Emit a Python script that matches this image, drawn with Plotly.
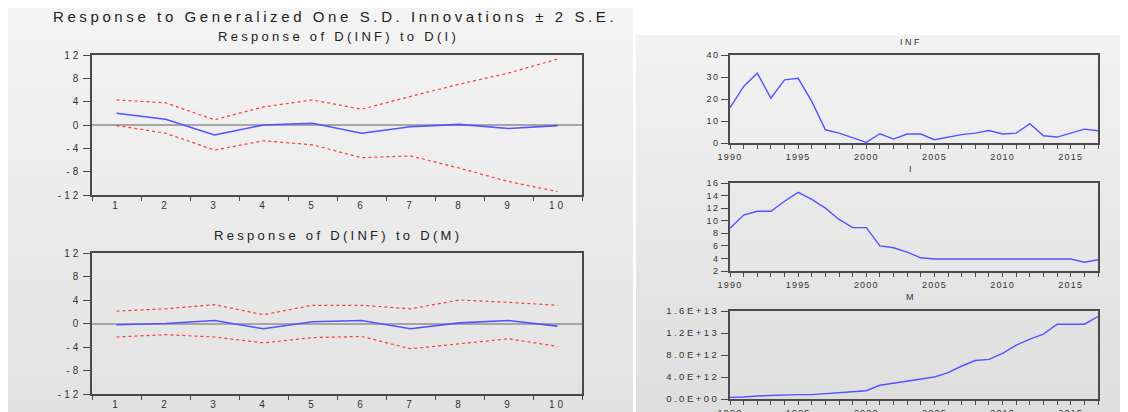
import plotly.graph_objects as go

# ---------------- data ----------------
periods = [1, 2, 3, 4, 5, 6, 7, 8, 9, 10]
period_labels = ["1", "2", "3", "4", "5", "6", "7", "8", "9", "10"]

resp_i = [2.0, 1.0, -1.7, 0.0, 0.3, -1.4, -0.3, 0.1, -0.6, -0.1]
upper_i = [4.3, 3.8, 0.9, 3.1, 4.3, 2.7, 4.9, 7.0, 8.9, 11.3]
lower_i = [-0.1, -1.4, -4.3, -2.7, -3.4, -5.6, -5.3, -7.4, -9.7, -11.4]

resp_m = [-0.2, 0.0, 0.5, -0.9, 0.3, 0.5, -0.9, 0.1, 0.5, -0.45]
upper_m = [2.1, 2.5, 3.2, 1.5, 3.1, 3.1, 2.5, 4.0, 3.6, 3.1]
lower_m = [-2.3, -1.9, -2.3, -3.3, -2.4, -2.2, -4.3, -3.5, -2.6, -3.9]

irf_ticks = [-12, -8, -4, 0, 4, 8, 12]
irf_ticklabels = ["-12", "-8", "-4", "0", "4", "8", "12"]

years = list(range(1990, 2018))
year_ticks = [1990, 1995, 2000, 2005, 2010, 2015]
year_labels = ["1990", "1995", "2000", "2005", "2010", "2015"]

inf = [16.0, 25.7, 31.7, 20.4, 28.7, 29.4, 18.9, 6.0, 4.5, 2.3, 0.3, 4.2, 1.8, 4.1,
       4.1, 1.5, 2.7, 3.8, 4.5, 5.7, 4.1, 4.5, 8.8, 3.3, 2.7, 4.5, 6.3, 5.6]
rate_i = [8.8, 10.9, 11.5, 11.5, 13.1, 14.5, 13.4, 12.0, 10.2, 8.9, 8.9, 6.0, 5.7, 5.0,
          4.1, 3.9, 3.9, 3.9, 3.9, 3.9, 3.9, 3.9, 3.9, 3.9, 3.9, 3.9, 3.4, 3.8]
money = [0.30e12, 0.35e12, 0.55e12, 0.65e12, 0.80e12, 0.80e12, 0.80e12, 1.00e12, 1.15e12,
         1.30e12, 1.50e12, 2.50e12, 2.90e12, 3.30e12, 3.60e12, 4.00e12, 4.80e12, 6.00e12,
         7.00e12, 7.20e12, 8.30e12, 9.80e12, 10.9e12, 11.8e12, 13.6e12, 13.6e12, 13.6e12,
         15.0e12]

inf_ticks = [0, 10, 20, 30, 40]
inf_labels = ["0", "10", "20", "30", "40"]
i_ticks = [2, 4, 6, 8, 10, 12, 14, 16]
i_labels = ["2", "4", "6", "8", "10", "12", "14", "16"]
m_ticks = [0, 4e12, 8e12, 1.2e13, 1.6e13]
m_labels = ["0.0E+00", "4.0E+12", "8.0E+12", "1.2E+13", "1.6E+13"]

# page body has an 8px margin, so the figure is drawn 8px smaller and shifted
OFF = 8
W, H = 1128 - OFF, 412 - OFF
FONT = "Liberation Sans, Arial, sans-serif"


def sp(txt, ls):
    return f'<span style="letter-spacing:{ls}px">{txt}</span>'


def px_x(v):
    return min(1.0, max(0.0, (v - OFF) / W))


def px_y(v):
    return min(1.0, max(0.0, 1 - (v - OFF) / H))


fig = go.Figure()

BLUE = "#5353ff"
RED = "#ff3b3b"

# ---------- left IRF panels ----------
for (resp, up, lo, xa, ya) in [(resp_i, upper_i, lower_i, "x", "y"),
                               (resp_m, upper_m, lower_m, "x2", "y2")]:
    fig.add_trace(go.Scatter(x=periods, y=up, mode="lines", xaxis=xa, yaxis=ya,
                             line=dict(color=RED, width=1.2, dash="3px,3px"), showlegend=False))
    fig.add_trace(go.Scatter(x=periods, y=lo, mode="lines", xaxis=xa, yaxis=ya,
                             line=dict(color=RED, width=1.2, dash="3px,3px"), showlegend=False))
    fig.add_trace(go.Scatter(x=periods, y=resp, mode="lines", xaxis=xa, yaxis=ya,
                             line=dict(color=BLUE, width=1.6), showlegend=False))

# ---------- right series panels ----------
for (ser, xa, ya) in [(inf, "x3", "y3"), (rate_i, "x4", "y4"), (money, "x5", "y5")]:
    fig.add_trace(go.Scatter(x=years, y=ser, mode="lines", xaxis=xa, yaxis=ya,
                             line=dict(color=BLUE, width=1.4), showlegend=False))

AXCOL = "#4a4a4a"
TICKFONT_L = dict(family=FONT, size=10, color="#333333")
TICKFONT_R = dict(family=FONT, size=9, color="#333333")

left_x_dom = [px_x(92), px_x(582)]
right_x_dom = [px_x(730), px_x(1098)]


def irf_xaxis(anchor):
    return dict(domain=left_x_dom, anchor=anchor, range=[0.5, 10.5], automargin=False,
                tickmode="array", tickvals=periods,
                ticktext=[sp(t, 3) for t in period_labels],
                ticks="", tickfont=TICKFONT_L,
                minor=dict(tickmode="linear", tick0=0.5, dtick=1, ticks="outside",
                           ticklen=4, tickcolor=AXCOL, tickwidth=1),
                showline=True, linecolor=AXCOL, linewidth=1.5, mirror=True,
                showgrid=False, zeroline=False)


def irf_yaxis(anchor, dom):
    return dict(domain=dom, anchor=anchor, range=[-12, 12], automargin=False,
                tickmode="array", tickvals=irf_ticks,
                ticktext=[sp(t, 3) for t in irf_ticklabels],
                ticks="outside", ticklen=7, tickcolor=AXCOL, tickfont=TICKFONT_L,
                showline=True, linecolor=AXCOL, linewidth=1.5, mirror=True,
                showgrid=False, zeroline=True, zerolinecolor="#a6a6a6", zerolinewidth=2)


def yr_xaxis(anchor):
    return dict(domain=right_x_dom, anchor=anchor, range=[1990, 2017], automargin=False,
                tickmode="array", tickvals=year_ticks,
                ticktext=[sp(t, 1.2) for t in year_labels],
                ticks="outside", ticklen=4, tickcolor=AXCOL, tickfont=TICKFONT_R,
                minor=dict(tickmode="linear", tick0=1990, dtick=1, ticks="outside",
                           ticklen=4, tickcolor=AXCOL),
                showline=True, linecolor=AXCOL, linewidth=1.5, mirror=True,
                showgrid=False, zeroline=False)


def ser_yaxis(anchor, dom, rng, tv, tt, ls, fs=9):
    return dict(domain=dom, anchor=anchor, range=rng, automargin=False,
                tickmode="array", tickvals=tv,
                ticktext=[sp(t, ls) for t in tt],
                ticks="outside", ticklen=7, tickcolor=AXCOL,
                tickfont=dict(family=FONT, size=fs, color="#333333"),
                showline=True, linecolor=AXCOL, linewidth=1.5, mirror=True,
                showgrid=False, zeroline=False)


fig.update_layout(
    width=W, height=H, margin=dict(l=0, r=0, t=0, b=0, autoexpand=False),
    paper_bgcolor="white", plot_bgcolor="white",
    xaxis=irf_xaxis("y"),
    yaxis=irf_yaxis("x", [px_y(195), px_y(55)]),
    xaxis2=irf_xaxis("y2"),
    yaxis2=irf_yaxis("x2", [px_y(394), px_y(253)]),
    xaxis3=yr_xaxis("y3"),
    yaxis3=ser_yaxis("x3", [px_y(143), px_y(55)], [0, 40], inf_ticks, inf_labels, 1.5),
    xaxis4=yr_xaxis("y4"),
    yaxis4=ser_yaxis("x4", [px_y(271), px_y(183)], [2, 16], i_ticks, i_labels, 1.5),
    xaxis5=yr_xaxis("y5"),
    yaxis5=ser_yaxis("x5", [px_y(399), px_y(311)], [0, 1.6e13], m_ticks, m_labels, 2.5, 9.5),
)

# ---------- panel backgrounds (vertical gradient bands) ----------
shapes = []


def gradient(x0, x1, y0, y1, c_top, c_bot, n=24):
    for k in range(n):
        t = k / (n - 1)
        c = [round(c_top[j] + (c_bot[j] - c_top[j]) * t) for j in range(3)]
        ya = y0 + (y1 - y0) * k / n
        yb = y0 + (y1 - y0) * (k + 1) / n
        shapes.append(dict(type="rect", xref="paper", yref="paper", layer="below",
                           x0=px_x(x0), x1=px_x(x1), y0=px_y(yb + 0.5), y1=px_y(ya),
                           line=dict(width=0),
                           fillcolor=f"rgb({c[0]},{c[1]},{c[2]})"))


gradient(0, 633, 6, 412, (244, 244, 244), (226, 226, 226))
gradient(636, 1128, 35, 412, (242, 242, 242), (222, 222, 222))
fig.update_layout(shapes=shapes)

# ---------- titles ----------
ann = []
ann.append(dict(text=sp("Response to Generalized One S.D. Innovations \u00b1 2 S.E.", 3.6),
                x=px_x(335), y=px_y(16), font=dict(family=FONT, size=15, color="#222222")))
ann.append(dict(text=sp("Response of D(INF) to D(I)", 3.3),
                x=px_x(338), y=px_y(37), font=dict(family=FONT, size=13, color="#222222")))
ann.append(dict(text=sp("Response of D(INF) to D(M)", 3.3),
                x=px_x(338), y=px_y(236), font=dict(family=FONT, size=13, color="#222222")))
ann.append(dict(text=sp("INF", 2.5), x=px_x(911), y=px_y(42),
                font=dict(family=FONT, size=9, color="#333333")))
ann.append(dict(text=sp("I", 2.5), x=px_x(911), y=px_y(169),
                font=dict(family=FONT, size=9, color="#333333")))
ann.append(dict(text=sp("M", 2.5), x=px_x(911), y=px_y(297),
                font=dict(family=FONT, size=9, color="#333333")))
for a in ann:
    a.update(xref="paper", yref="paper", showarrow=False, xanchor="center", yanchor="middle")
fig.update_layout(annotations=ann)

fig.write_html("out.html")
